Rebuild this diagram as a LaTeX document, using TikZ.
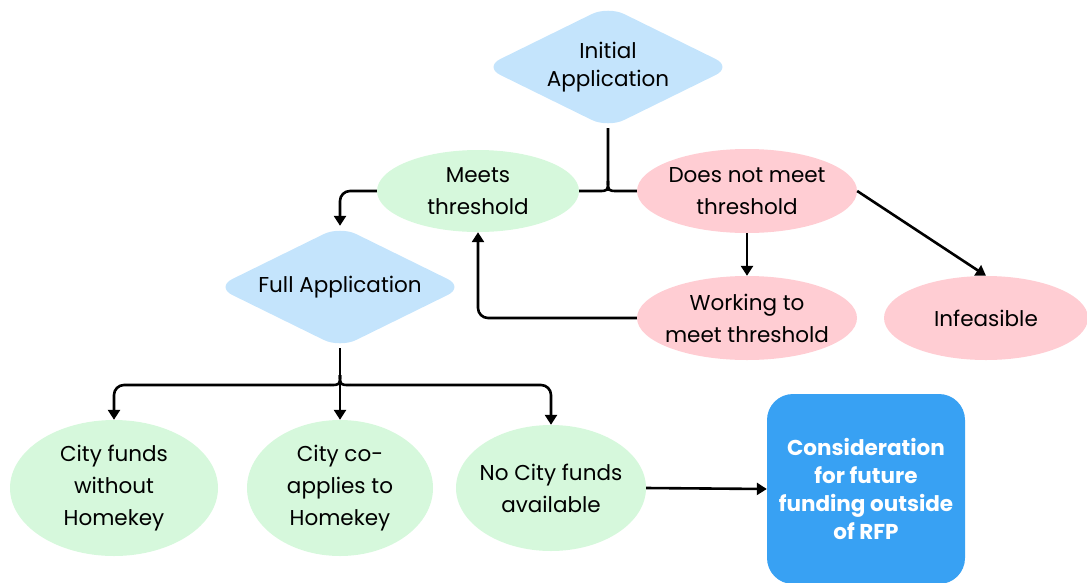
\documentclass[tikz,border=0pt]{standalone}
\usepackage{fontspec}
\setmainfont{Poppins}
\usetikzlibrary{shapes.geometric,arrows.meta}
\definecolor{dblue}{HTML}{C4E4FC}
\definecolor{lgreen}{HTML}{D6F8DC}
\definecolor{lpink}{HTML}{FFCDD3}
\definecolor{bbox}{HTML}{38A1F3}
\tikzset{
  base/.style={inner sep=0pt, align=center, font=\fontsize{21.5}{28}\selectfont},
  dia/.style={base, diamond, aspect=2.07, fill=dblue, minimum width=248pt, minimum height=122pt, rounded corners=18pt},
  ell/.style={base, ellipse, inner sep=-40pt, font=\fontsize{21.5}{32}\selectfont},
  gell/.style={ell, fill=lgreen},
  pell/.style={ell, fill=lpink},
  conn/.style={line width=2.6pt, rounded corners=10pt},
  arr/.style={conn, -{Triangle[width=12pt,length=10pt]}},
}
\begin{document}
\begin{tikzpicture}[x=1pt,y=-1pt]
\useasboundingbox (0,0) rectangle (1087,582);
\node[dia] (init) at (608,67) {Initial\\Application};
\node[gell, minimum width=202pt, minimum height=82pt] (meets) at (478,191) {Meets\\threshold};
\node[pell, minimum width=220pt, minimum height=84pt] (dnm) at (747,191) {Does not meet\\threshold};
\node[dia] (full) at (340,287) {Full Application};
\node[pell, minimum width=220pt, minimum height=84pt] (work) at (747,318) {Working to\\meet threshold};
\node[pell, minimum width=204pt, minimum height=84pt] (inf) at (986,318) {Infeasible};
\node[gell, minimum width=208pt, minimum height=136pt] (cf) at (114,488) {City funds\\without\\Homekey};
\node[gell, minimum width=186pt, minimum height=136pt] (cc) at (340,488) {City co-\\applies to\\Homekey};
\node[gell, minimum width=190pt, minimum height=126pt] (nc) at (551,488) {No City funds\\available};
\node[base, fill=bbox, text=white, font=\fontsize{21.5}{28}\selectfont\bfseries, rounded corners=26pt, minimum width=198pt, minimum height=190pt] (cons) at (866,489) {Consideration\\for future\\funding outside\\of RFP};
% top brace
\draw[conn, rounded corners=0pt] (init.south) -- (608,181) .. controls (608,191) .. (598,191) -- (meets.east);
\draw[conn, rounded corners=0pt] (608,181) .. controls (608,191) .. (618,191) -- (dnm.west);
\draw[arr] (meets.west) -| (full.north);
\draw[arr] (dnm.south) -- (work.north);
\draw[arr] (dnm.east) -- (inf.north);
\draw[arr] (work.west) -| (meets.south);
% bottom brace
\draw[arr, rounded corners=0pt] (full.south) -- (cc.north);
\draw[conn, rounded corners=0pt] (340,375) .. controls (340,385) .. (330,385);
\draw[conn, rounded corners=0pt] (340,375) .. controls (340,385) .. (350,385);
\draw[arr] (330,385) -| (cf.north);
\draw[arr] (350,385) -| (nc.north);
\draw[arr] (nc.east) -- (cons.west);
\end{tikzpicture}
\end{document}
